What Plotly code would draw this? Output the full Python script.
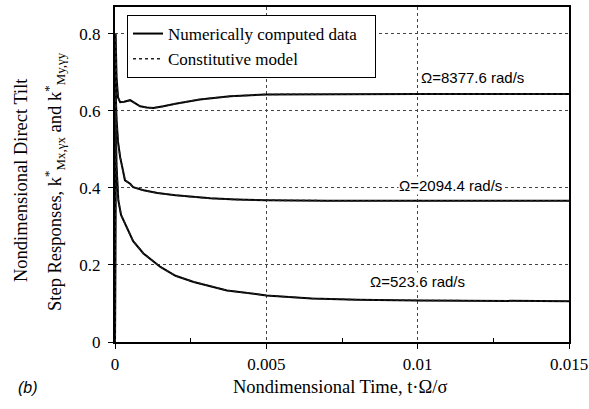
import plotly.graph_objects as go

# ---- data ----
t_8377 = [0, 0.00002, 0.00005, 0.0001, 0.00017, 0.0003, 0.0005, 0.00065, 0.00083, 0.00105, 0.00127,
          0.0016, 0.002, 0.0028, 0.0038, 0.005, 0.007, 0.01, 0.015]
k_8377 = [0, 0.80, 0.69, 0.635, 0.623, 0.624, 0.628, 0.62, 0.612, 0.609, 0.608,
          0.612, 0.619, 0.63, 0.638, 0.643, 0.644, 0.644, 0.644]

t_2094 = [0, 0.00002, 0.00005, 0.0001, 0.00017, 0.00033, 0.0005, 0.0006, 0.00094, 0.0014, 0.002,
          0.00315, 0.004, 0.005, 0.007, 0.01, 0.015]
k_2094 = [0, 0.66, 0.58, 0.52, 0.48, 0.42, 0.411, 0.402, 0.394, 0.387, 0.381,
          0.373, 0.370, 0.368, 0.367, 0.367, 0.367]

t_523 = [0, 0.00002, 0.00005, 0.00011, 0.0002, 0.00039, 0.0006, 0.00094, 0.0015, 0.002, 0.0026,
         0.0037, 0.005, 0.0065, 0.008, 0.01, 0.012, 0.015]
k_523 = [0, 0.60, 0.46, 0.368, 0.33, 0.299, 0.262, 0.23, 0.195, 0.172, 0.156,
         0.134, 0.121, 0.113, 0.110, 0.108, 0.107, 0.106]

series = [(t_8377, k_8377), (t_2094, k_2094), (t_523, k_523)]
labels = ["Ω=8377.6 rad/s", "Ω=2094.4 rad/s", "Ω=523.6 rad/s"]
label_x = [0.0118, 0.0111, 0.0100]
label_y = [0.687, 0.407, 0.158]

x_ticks = [0, 0.005, 0.01, 0.015]
x_ticklabels = ["0", "0.005", "0.01", "0.015"]
y_ticks = [0, 0.2, 0.4, 0.6, 0.8]
y_ticklabels = ["0", "0.2", "0.4", "0.6", "0.8"]

SERIF = "Liberation Serif, Times New Roman, serif"
SANS = "Liberation Sans, Arial, sans-serif"

W, H = 589, 409
ML, MR, MT, MB = 115, 20, 7, 67
PW, PH = W - ML - MR, H - MT - MB


def px(xpix):
    return (xpix - ML) / PW


def py(ypix):
    return (H - MB - ypix) / PH


fig = go.Figure()
for i, (t, k) in enumerate(series):
    fig.add_trace(go.Scatter(x=t, y=k, mode="lines", line=dict(color="black", width=2),
                             name="Numerically computed data&nbsp;&nbsp;&nbsp;",
                             showlegend=(i == 0), legendgroup="num"))
for i, (t, k) in enumerate(series):
    fig.add_trace(go.Scatter(x=t, y=k, mode="lines", line=dict(color="#222", width=1.5, dash="dot"),
                             name="Constitutive model", showlegend=(i == 0),
                             legendgroup="mod"))

for txt, lx, ly in zip(labels, label_x, label_y):
    fig.add_annotation(x=lx, y=ly, text=txt, showarrow=False, xref="x", yref="y",
                       xanchor="center", yanchor="middle",
                       font=dict(family=SANS, size=15, color="black"), bgcolor="white",
                       borderpad=0)


def paper_text(xp, yp, text, font, angle=0):
    fig.add_annotation(x=px(xp), y=py(yp), xref="paper", yref="paper", text=text,
                       textangle=angle, showarrow=False, xanchor="center", yanchor="middle",
                       font=font)


TITLE_FONT = dict(family=SERIF, size=18.5, color="black")
paper_text(21, 180, "Nondimensional Direct Tilt", TITLE_FONT, -90)
paper_text(55, 182, "Step Responses, k<sup>*</sup><sub>Mx,γx</sub> and k<sup>*</sup><sub>My,γy</sub>",
           TITLE_FONT, -90)
paper_text(28, 387, "<i>(b)</i>", dict(family=SANS, size=16, color="black"))
paper_text(340, 387, "Nondimensional Time, t·Ω/σ", TITLE_FONT)

fig.update_layout(
    width=W, height=H,
    template="none",
    margin=dict(l=ML, r=MR, t=MT, b=MB, pad=0),
    paper_bgcolor="white", plot_bgcolor="white",
    font=dict(family=SERIF, size=17, color="black"),
    legend=dict(x=px(127), y=py(15), xanchor="left", yanchor="top",
                bgcolor="white", bordercolor="black", borderwidth=1,
                font=dict(family=SERIF, size=17, color="black"),
                tracegroupgap=0, itemwidth=30),
    xaxis=dict(range=[0, 0.015], tickvals=x_ticks, ticktext=x_ticklabels,
               tickfont=dict(family=SERIF, size=17, color="black"),
               automargin=False, ticklabeloverflow="allow", ticklabelstandoff=1,
               showline=True, linecolor="black", linewidth=2, mirror=True,
               ticks="outside", ticklen=5, tickcolor="black",
               showgrid=True, gridcolor="#444", griddash="dot", gridwidth=1,
               zeroline=False,
               minor=dict(tickvals=[0.0025, 0.0075, 0.0125], ticks="inside", ticklen=4,
                          tickcolor="black", showgrid=False)),
    yaxis=dict(range=[0, 0.87], tickvals=y_ticks, ticktext=y_ticklabels,
               tickfont=dict(family=SERIF, size=17, color="black"),
               automargin=False, ticklabeloverflow="allow", ticklabelstandoff=4,
               showline=True, linecolor="black", linewidth=2, mirror=True,
               ticks="outside", ticklen=5, tickcolor="black",
               showgrid=True, gridcolor="#444", griddash="dot", gridwidth=1,
               zeroline=False),
)

# remove the browser's default 8px page margin so the 589x409 figure fills the window
fig.write_html(
    "out.html",
    config={"displayModeBar": False},
    post_script="document.body.style.margin='0';document.documentElement.style.overflow='hidden';",
)
